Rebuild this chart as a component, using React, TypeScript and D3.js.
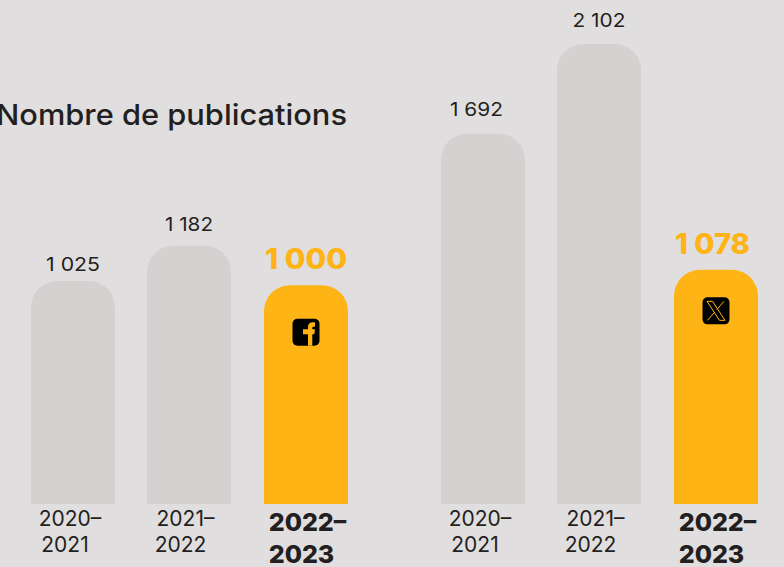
import React from "react";
import * as d3 from "d3";

const W = 784, H = 567;
const periods = ["2020–2021", "2021–2022", "2022–2023"];
const facebookValues = [1019, 1180, 1000];
const twitterValues = [1692, 2102, 1070];
const valueLabelsFb = ["1 025", "1 182", "1 000"];
const valueLabelsX = ["1 692", "2 102", "1 078"];
const title = "Nombre de publications";

const BG = "#E0DEDF", GREY = "#D3D2D0", ORANGE = "#FDB414", INK = "#231F20";
const FONT = "Inter, 'Open Sans', sans-serif";
const BAR_W = 84, R = 26, BASE = 504;
const TICK1_DX = [-3, -3.5, 1.5];
const TICK2_DX = [-8, -8.5, -4.5];

const y = d3.scaleLinear().domain([0, 2102]).range([BASE, 44]);
const xFb = d3.scalePoint<string>().domain(periods).range([73, 306]);
const xX = d3.scalePoint<string>().domain(periods).range([483, 716]);

function barPath(cx: number, top: number) {
  const p = d3.path();
  const l = cx - BAR_W / 2, r = cx + BAR_W / 2;
  p.moveTo(l, BASE);
  p.lineTo(l, top + R);
  p.arcTo(l, top, l + R, top, R);
  p.lineTo(r - R, top);
  p.arcTo(r, top, r, top + R, R);
  p.lineTo(r, BASE);
  p.closePath();
  return p.toString();
}

function Group({ values, labels, x, icon, labelDx, labelDy, widths }: { values: number[]; labels: string[]; x: d3.ScalePoint<string>; icon: "fb" | "x"; labelDx: number[]; labelDy: number[]; widths: number[] }) {
  return (
    <g>
      {periods.map((per, i) => {
        const cx = Math.floor(x(per)!);
        const top = y(values[i]);
        const hi = i === 2;
        const [a, b] = per.split("–");
        return (
          <g key={per}>
            <path d={barPath(cx, top)} fill={hi ? ORANGE : GREY} />
            <text x={cx + labelDx[i]} y={top - labelDy[i]} textAnchor="middle"
              fontFamily={FONT} fontSize={hi ? 28 : 19} fontWeight={hi ? 800 : 400}
              fill={hi ? ORANGE : INK} textLength={widths[i]} lengthAdjust="spacingAndGlyphs">
              {labels[i]}
            </text>
            <text textAnchor="middle" fontFamily={FONT} fontSize={hi ? 25 : 21} fontWeight={hi ? 800 : 400} fill={INK}>
              <tspan x={cx + TICK1_DX[i]} y={hi ? 531 : 526}>{a}–</tspan>
              <tspan x={cx + TICK2_DX[i]} y={hi ? 563 : 552}>{b}</tspan>
            </text>
            {hi && icon === "fb" && (
              <g transform={`translate(${cx},${top + 47})`}>
                <rect x={-13.5} y={-13.5} width={27} height={27} rx={5} fill="#000" />
                <path d="M2 13.5V2H-3V-3H2V-5.5C2 -8.5 4 -10 6.5 -10H9V-5.5H7.5C6.5 -5.5 6.3 -5 6.3 -4V-3H9L8.3 2H6.3V13.5Z" fill={ORANGE} />
              </g>
            )}
            {hi && icon === "x" && (
              <g transform={`translate(${cx},${top + 41})`}>
                <rect x={-13.5} y={-13.5} width={27} height={27} rx={5} fill="#000" />
                <path d="M-9 -9.5H-3.5L9 9.5H3.5Z" fill="none" stroke={ORANGE} strokeWidth={1} />
                <path d="M8 -9.5L1 -1.5M-1.5 1.5L-8.5 9.5" fill="none" stroke={ORANGE} strokeWidth={1} />
              </g>
            )}
          </g>
        );
      })}
    </g>
  );
}

export default function App() {
  return (
    <svg width={W} height={H} viewBox={`0 0 ${W} ${H}`} style={{ position: "absolute", left: 0, top: 0, background: BG }}>
      <rect width={W} height={H} fill={BG} />
      <text x={-4} y={125} fontFamily={FONT} fontSize={29} fontWeight={500} fill={INK} textLength={351} lengthAdjust="spacingAndGlyphs">{title}</text>
      <Group values={facebookValues} labels={valueLabelsFb} x={xFb} icon="fb" labelDx={[0, 0, 0]} labelDy={[10, 15, 16]} widths={[54, 48, 82]} />
      <Group values={twitterValues} labels={valueLabelsX} x={xX} icon="x" labelDx={[-6.5, 0, -3.5]} labelDy={[18, 17, 16]} widths={[53, 53, 75]} />
    </svg>
  );
}
